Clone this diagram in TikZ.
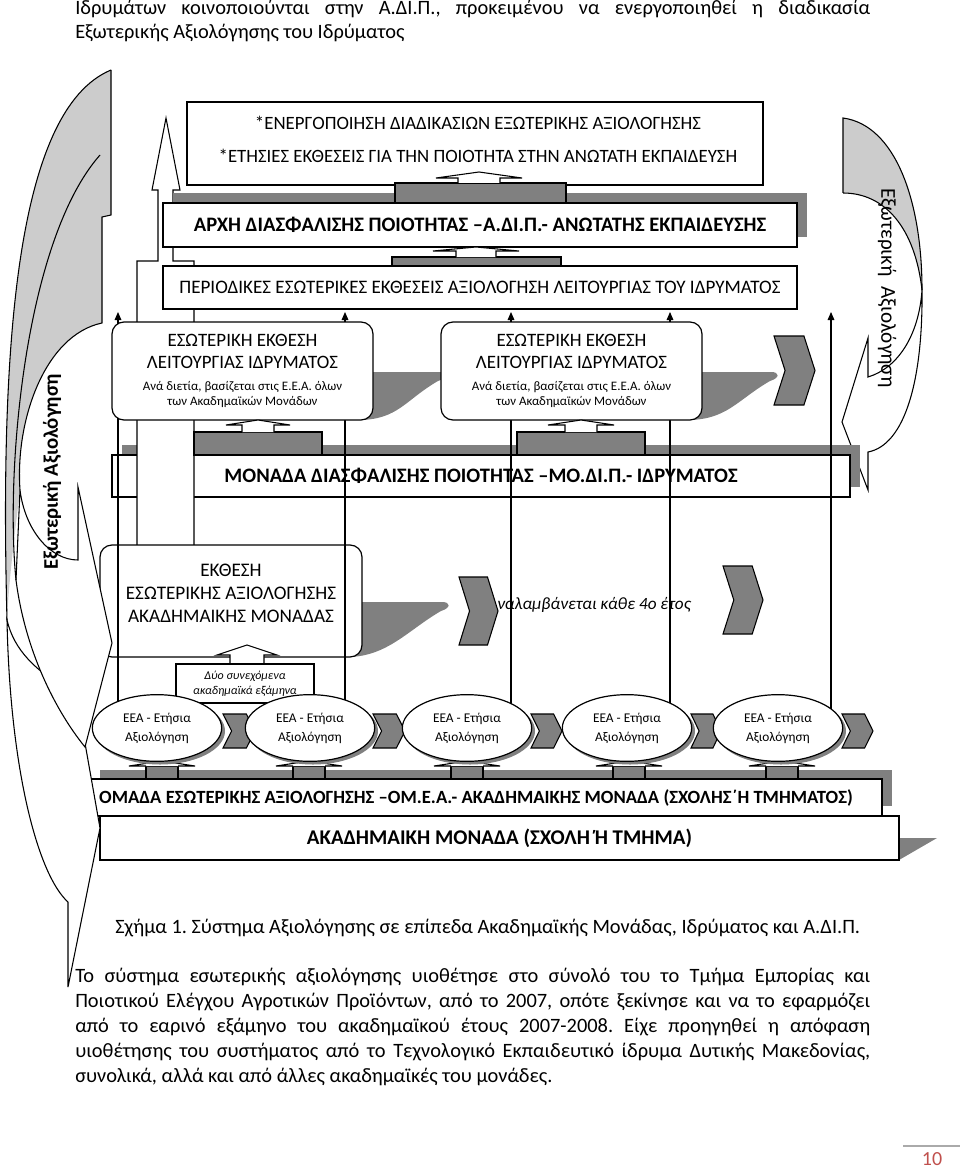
\documentclass[tikz,border=0pt]{standalone}
\usepackage{fontspec}
\setmainfont{Carlito}
\frenchspacing
\usetikzlibrary{positioning, arrows.meta, shapes.geometric}
\definecolor{evaldark}{RGB}{128,128,128}
\definecolor{evallight}{RGB}{204,204,204}
\definecolor{pagered}{RGB}{192,80,77}
\definecolor{rulegray}{RGB}{170,170,170}

% chevron: left x, top y, width, height
\newcommand\chevron[4]{%
  \filldraw[chev] (#1,#2) -- ++({0.73*#3},0) -- ++({0.27*#3},{0.5*#4})
    -- ++({-0.27*#3},{0.5*#4}) -- ++({-0.73*#3},0)
    -- ++({0.27*#3},{-0.5*#4}) -- cycle;}
% white head of a block arrow: centre x, body top, base y, tip y, notch half, head half
\newcommand\blockhead[6]{%
  \filldraw[bhead] ({#1-#5},#2) -- ({#1-#5},#3) -- ({#1-#6},#3) -- (#1,#4)
    -- ({#1+#6},#3) -- ({#1+#5},#3) -- ({#1+#5},#2);}
% grey tail behind a rounded box: box edge x, top y, tip x, bottom y
\newcommand\graytail[4]{%
  \fill[evaldark] ({#1-15},#2) -- ({#3-6},#2)
    .. controls ({#3+3},#2) and ({#3+3},{#2+6}) .. ({#3-7},{#2+9})
    .. controls ({#3-40},{#2+28}) and ({#1+25},#4) .. ({#1-15},#4) -- cycle;}

\begin{document}
\begin{tikzpicture}[x=0.75pt, y=-0.75pt,
  box/.style={rectangle, draw, line width=0.9pt, fill=white, inner sep=0pt, align=center},
  rbox/.style={box, rounded corners=9pt},
  eea/.style={ellipse, draw, line width=0.9pt, fill=white, inner sep=0pt,
              minimum width=97pt, minimum height=50pt, align=center,
              font=\fontsize{10}{14.25}\selectfont},
  shadowfill/.style={fill=evaldark},
  chev/.style={fill=evaldark, draw=black, line width=0.8pt},
  bhead/.style={fill=white, draw=black, line width=0.8pt},
  bbody/.style={fill=evaldark, draw=black, line width=0.8pt},
  curv/.style={draw=black, line width=0.8pt},
  vline/.style={-{Triangle[length=6pt, width=5pt]}, line width=0.8pt},
  txt/.style={inner sep=0pt, font=\fontsize{15.3}{18}\selectfont},
  bold/.style={inner sep=0pt, font=\fontsize{15.4}{18}\selectfont\bfseries}
]
\useasboundingbox (0,0) rectangle (960,1173);

% text above the figure
\node[txt, anchor=base west] (introA) at (75,15) {\makebox[596.25pt][s]{Ιδρυμάτων κοινοποιούνται στην Α.ΔΙ.Π., προκειμένου να ενεργοποιηθεί η διαδικασία}};
\node[txt, anchor=base west] (introB) at (75,39) {Εξωτερικής Αξιολόγησης του Ιδρύματος};

% right curved arrow
\fill[evallight] (843,118) .. controls (895,125) and (922,200) .. (922,290)
  .. controls (915,228) and (885,193) .. (843,193) -- cycle;
\filldraw[curv, fill=white] (922,290) .. controls (923,380) and (905,445) .. (868,452)
  -- (868,490) -- (842,422) -- (868,338) -- (868,377)
  .. controls (898,368) and (919,335) .. (922,290) -- cycle;
\draw[curv] (843,193) -- (843,118) .. controls (895,125) and (922,200) .. (922,290);
\draw[curv] (843,193) .. controls (885,193) and (915,228) .. (922,290);

% MO.DI.P. block
\fill[shadowfill] (122,445) rectangle (860,487);
\node[box, bold, minimum width=553.5pt, minimum height=31.5pt] (modip) at (481,476) {ΜΟΝΑΔΑ ΔΙΑΣΦΑΛΙΣΗΣ ΠΟΙΟΤΗΤΑΣ –ΜΟ.ΔΙ.Π.- ΙΔΡΥΜΑΤΟΣ};

% tall white arrow
\filldraw[curv, fill=white] (137,545) -- (137,261) -- (158,261) -- (158,190) -- (152,190)
  -- (166,118) -- (180,190) -- (173,190) -- (173,261) -- (194,261) -- (194,545);

% report of the academic unit
\graytail{362}{602}{448}{657}
\node[rbox, minimum width=196.5pt, minimum height=84pt] (ekthesi) at (231,601) {};
\node[txt, align=center, font=\fontsize{14.4}{17.25}\selectfont] (ekthesiT) at (231,593)
  {ΕΚΘΕΣΗ\\ΕΣΩΤΕΡΙΚΗΣ ΑΞΙΟΛΟΓΗΣΗΣ\\ΑΚΑΔΗΜΑΙΚΗΣ ΜΟΝΑΔΑΣ};

% vertical connectors
\coordinate (v1b) at (118,702); \coordinate (v1t) at (118,312);
\coordinate (v2b) at (345,700); \coordinate (v2t) at (345,312);
\coordinate (v3b) at (511,704); \coordinate (v3t) at (511,312);
\coordinate (v4b) at (670,704); \coordinate (v4t) at (670,312);
\coordinate (v5b) at (831,709); \coordinate (v5t) at (831,312);
\foreach \i in {1,...,5} { \draw[vline] (v\i b) -- (v\i t); }

% internal reports of the institution
\graytail{373}{372}{445}{420}
\graytail{702}{372}{777}{420}
\node[rbox, font=\fontsize{14.2}{16.5}\selectfont, minimum width=195.75pt, minimum height=73.5pt] (esoL) at (242.5,371)
  {ΕΣΩΤΕΡΙΚΗ ΕΚΘΕΣΗ\\ΛΕΙΤΟΥΡΓΙΑΣ ΙΔΡΥΜΑΤΟΣ\\
   {\fontsize{9.7}{11}\selectfont Ανά διετία, βασίζεται στις Ε.Ε.Α. όλων}\\[-5pt]
   {\fontsize{9.7}{11}\selectfont των Ακαδημαϊκών Μονάδων}};
\node[rbox, font=\fontsize{14.2}{16.5}\selectfont, minimum width=195.75pt, minimum height=73.5pt] (esoR) at (571.5,371)
  {ΕΣΩΤΕΡΙΚΗ ΕΚΘΕΣΗ\\ΛΕΙΤΟΥΡΓΙΑΣ ΙΔΡΥΜΑΤΟΣ\\
   {\fontsize{9.7}{11}\selectfont Ανά διετία, βασίζεται στις Ε.Ε.Α. όλων}\\[-5pt]
   {\fontsize{9.7}{11}\selectfont των Ακαδημαϊκών Μονάδων}};

% block arrows from MO.DI.P.
\draw[bbody] (194,455) rectangle (322,432);
\blockhead{258}{432}{425}{420}{16}{32}
\draw[bbody] (517,455) rectangle (645,432);
\blockhead{581}{432}{425}{420}{16}{33}

% upper levels
\node[box, minimum width=432pt, minimum height=62.25pt] (adipout) at (475,143.5) {};
\node[txt, align=center, font=\fontsize{14.1}{24.75}\selectfont] (adipoutT) at (478,139)
  {*ΕΝΕΡΓΟΠΟΙΗΣΗ ΔΙΑΔΙΚΑΣΙΩΝ ΕΞΩΤΕΡΙΚΗΣ ΑΞΙΟΛΟΓΗΣΗΣ\\*ΕΤΗΣΙΕΣ ΕΚΘΕΣΕΙΣ ΓΙΑ ΤΗΝ ΠΟΙΟΤΗΤΑ ΣΤΗΝ ΑΝΩΤΑΤΗ ΕΚΠΑΙΔΕΥΣΗ};
\fill[shadowfill] (173,193) rectangle (807,237);
\node[box, bold, minimum width=475.5pt, minimum height=33pt] (adip) at (480,225) {ΑΡΧΗ ΔΙΑΣΦΑΛΙΣΗΣ ΠΟΙΟΤΗΤΑΣ –Α.ΔΙ.Π.- ΑΝΩΤΑΤΗΣ ΕΚΠΑΙΔΕΥΣΗΣ};
\node[box, font=\fontsize{14.3}{16}\selectfont, minimum width=475.5pt, minimum height=32.25pt] (periodic) at (480,287.5) {ΠΕΡΙΟΔΙΚΕΣ ΕΣΩΤΕΡΙΚΕΣ ΕΚΘΕΣΕΙΣ ΑΞΙΟΛΟΓΗΣΗ ΛΕΙΤΟΥΡΓΙΑΣ ΤΟΥ ΙΔΡΥΜΑΤΟΣ};
\draw[bbody] (395,203) rectangle (566,183);
\blockhead{479}{183}{178}{172}{21}{43}
\draw[bbody] (392,266) rectangle (561,257);
\blockhead{476}{257}{251}{247}{20}{43}

% chevrons in the middle
\chevron{774}{336}{41}{69}
\chevron{459}{577}{39}{68}
\chevron{723}{566}{40}{68}
\node[txt, anchor=west, font=\fontsize{12.9}{15}\selectfont\itshape] (repeat) at (497,605) {ναλαμβάνεται κάθε 4ο έτος};

% two semesters
\blockhead{247}{664}{655}{645}{17}{30}
\node[box, minimum width=103.5pt, minimum height=29.25pt, font=\fontsize{9}{11.25}\selectfont\itshape] (dyo) at (245,683.5) {Δύο συνεχόμενα\\ακαδημαϊκά εξάμηνα};

% OM.E.A. and academic unit
\fill[shadowfill] (100,770) rectangle (892,806);
\node[box, minimum width=594pt, minimum height=27.75pt] (omea) at (486,797.5) {};
\node[bold, font=\fontsize{14}{16}\selectfont\bfseries] (omeaT) at (476,798) {ΟΜΑΔΑ ΕΣΩΤΕΡΙΚΗΣ ΑΞΙΟΛΟΓΗΣΗΣ –ΟΜ.Ε.Α.- ΑΚΑΔΗΜΑΙΚΗΣ ΜΟΝΑΔΑ (ΣΧΟΛΗΣ΄Η ΤΜΗΜΑΤΟΣ)};
\fill[shadowfill] (899,838) -- (937,838) -- (899,860) -- cycle;
\node[box, bold, font=\fontsize{15.7}{18}\selectfont\bfseries, minimum width=599.25pt, minimum height=33pt] (akad) at (499.5,838) {ΑΚΑΔΗΜΑΙΚΗ ΜΟΝΑΔΑ (ΣΧΟΛΗ Ή ΤΜΗΜΑ)};

% yearly evaluations
\foreach \cx in {162,309,467,629,782} {
  \draw[bbody] ({\cx-16},779) rectangle ({\cx+16},766);
  \blockhead{\cx}{766}{766}{761}{16}{33}
}
\chevron{223}{714}{32}{34}
\chevron{373}{714}{32}{34}
\chevron{531}{714}{31}{34}
\chevron{691}{714}{30}{34}
\chevron{842}{714}{31}{34}
\foreach \cx in {157,310,467,627,778} {
  \fill[evaldark] ({\cx+3},731) ellipse [x radius=65, y radius=33.5];
}
\node[eea] (eea1) at (157,728) {ΕΕΑ - Ετήσια\\Αξιολόγηση};
\node[eea] (eea2) at (310,728) {ΕΕΑ - Ετήσια\\Αξιολόγηση};
\node[eea] (eea3) at (467,728) {ΕΕΑ - Ετήσια\\Αξιολόγηση};
\node[eea] (eea4) at (627,728) {ΕΕΑ - Ετήσια\\Αξιολόγηση};
\node[eea] (eea5) at (778,728) {ΕΕΑ - Ετήσια\\Αξιολόγηση};

% left curved arrows
\fill[evallight] (111,70) -- (111,215) -- (102,217) -- (102,323)
  .. controls (45,335) and (15,420) .. (20,490)
  .. controls (14,540) and (9,580) .. (7,620)
  .. controls (0,350) and (15,110) .. (111,70) -- cycle;
\filldraw[curv, fill=white] (7,620) .. controls (10,770) and (38,875) .. (68,902)
  -- (68,987) -- (100,828) -- (68,647) -- (68,690)
  .. controls (35,670) and (14,650) .. (7,620) -- cycle;
\filldraw[curv, fill=white] (20,490) .. controls (25,530) and (50,560) .. (78,560)
  -- (78,487) -- (112,643) -- (85,747)
  .. controls (55,710) and (25,650) .. (16,580) -- cycle;
\draw[curv] (111,70) .. controls (15,110) and (0,350) .. (7,620);
\draw[curv] (111,70) -- (111,215) -- (102,217) -- (102,323)
  .. controls (45,335) and (15,420) .. (20,490);
\draw[curv] (100,155) .. controls (25,240) and (5,470) .. (16,580);

% side labels
\node[rotate=90, inner sep=0pt, font=\fontsize{15.6}{18}\selectfont\bfseries] (extL) at (52,472) {Εξωτερική Αξιολόγηση};
\node[rotate=-90, inner sep=0pt, font=\fontsize{15.9}{18}\selectfont] (extR) at (887,288) {Εξωτερική\ \ Αξιολόγηση};

% caption and text below
\node[txt, anchor=base west] (caption) at (115,933) {Σχήμα 1. Σύστημα Αξιολόγησης σε επίπεδα Ακαδημαϊκής Μονάδας, Ιδρύματος και Α.ΔΙ.Π.};
\node[txt, anchor=base west] (paraA) at (75,982) {\makebox[596.25pt][s]{Το σύστημα εσωτερικής αξιολόγησης υιοθέτησε στο σύνολό του το Τμήμα Εμπορίας και}};
\node[txt, anchor=base west] (paraB) at (75,1007) {\makebox[596.25pt][s]{Ποιοτικού Ελέγχου Αγροτικών Προϊόντων, από το 2007, οπότε ξεκίνησε και να το εφαρμόζει}};
\node[txt, anchor=base west] (paraC) at (75,1032) {\makebox[596.25pt][s]{από το εαρινό εξάμηνο του ακαδημαϊκού έτους 2007-2008. Είχε προηγηθεί η απόφαση}};
\node[txt, anchor=base west] (paraD) at (75,1057) {\makebox[596.25pt][s]{υιοθέτησης του συστήματος από το Τεχνολογικό Εκπαιδευτικό ίδρυμα Δυτικής Μακεδονίας,}};
\node[txt, anchor=base west] (paraE) at (75,1082) {συνολικά, αλλά και από άλλες ακαδημαϊκές του μονάδες.};

% page number
\draw[rulegray, line width=0.8pt] (903,1146) -- (960,1146);
\node[inner sep=0pt, text=pagered, font=\fontsize{15}{18}\selectfont] (pageno) at (932,1159) {10};
\end{tikzpicture}
\end{document}
